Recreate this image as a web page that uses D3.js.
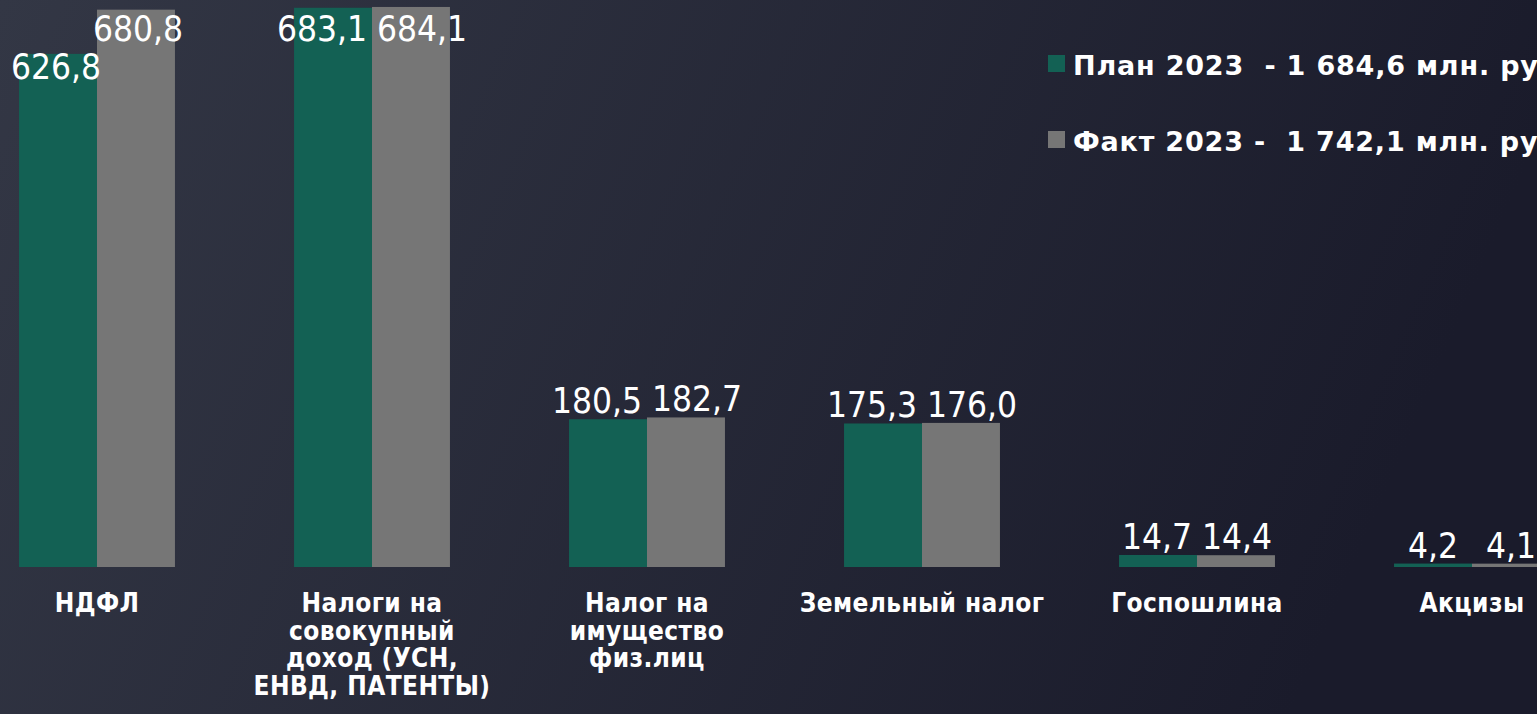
<!DOCTYPE html>
<html>
<head>
<meta charset="utf-8">
<script src="https://cdn.jsdelivr.net/npm/d3@7"></script>
<style>
  html, body { margin: 0; padding: 0; overflow: hidden; }
  body { width: 1537px; height: 714px; }
</style>
</head>
<body>
<svg id="chart"></svg>
<script>
// categories and series
const categories = [
  "НДФЛ",
  "Налоги на\nсовокупный\nдоход (УСН,\nЕНВД, ПАТЕНТЫ)",
  "Налог на\nимущество\nфиз.лиц",
  "Земельный налог",
  "Госпошлина",
  "Акцизы"
];
const plan2023 = [626.8, 683.1, 180.5, 175.3, 14.7, 4.2];
const fact2023 = [680.8, 684.1, 182.7, 176.0, 14.4, 4.1];
const seriesNames = ["План 2023  - 1 684,6 млн. руб.", "Факт 2023 -  1 742,1 млн. руб."];
const seriesColors = ["#136154", "#767676"];

const width = 1537, height = 714;
const baseline = 567;
const topLimit = 41;

const svg = d3.select("#chart")
  .attr("width", width)
  .attr("height", height);

// background gradient
const defs = svg.append("defs");
const grad = defs.append("linearGradient")
  .attr("id", "bg")
  .attr("x1", "0%").attr("y1", "0%")
  .attr("x2", "100%").attr("y2", "20%");
grad.append("stop").attr("offset", "0%").attr("stop-color", "#333745");
grad.append("stop").attr("offset", "100%").attr("stop-color", "#1a1b2b");

svg.append("rect")
  .attr("width", width)
  .attr("height", height)
  .attr("fill", "url(#bg)");

// scales
const x = d3.scaleBand()
  .domain(categories)
  .range([-40.5, 1609.5])
  .paddingInner(0.433)
  .paddingOuter(0.2165);

const xSub = d3.scaleBand()
  .domain([0, 1])
  .range([0, x.bandwidth()]);

const y = d3.scaleLinear()
  .domain([0, 692.6])
  .range([baseline, 0]);

const rows = categories.map((c, i) => ({ cat: c, vals: [plan2023[i], fact2023[i]] }));

const groups = svg.append("g")
  .selectAll("g.group")
  .data(rows)
  .join("g")
  .attr("class", "group")
  .attr("transform", d => `translate(${x(d.cat)},0)`);

groups.selectAll("rect")
  .data(d => d.vals.map((v, k) => ({ v, k })))
  .join("rect")
  .attr("x", d => xSub(d.k))
  .attr("y", d => y(d.v))
  .attr("width", xSub.bandwidth())
  .attr("height", d => baseline - y(d.v))
  .attr("fill", d => seriesColors[d.k]);

// value labels
const fmt = v => d3.format(".1f")(v).replace(".", ",");

groups.each(function(d) {
  const g = d3.select(this);
  const want = d.vals.map(v => y(v) - 6);
  const pos = want.map(p => Math.max(p, topLimit));
  const cx = d.vals.map((v, k) => xSub(k) + xSub.bandwidth() / 2);
  const labels = d.vals.map((v, k) => g.append("text")
    .attr("text-anchor", "middle")
    .attr("fill", "#ffffff")
    .style("font-family", "'DejaVu Sans Condensed', 'DejaVu Sans', sans-serif")
    .style("font-stretch", "condensed")
    .style("font-size", "35px")
    .text(fmt(v)));
  const w = labels.map(t => t.node().getComputedTextLength());
  const need = (w[0] + w[1]) / 2 + 10;
  const clamped = want.map(p => p < topLimit);
  if (clamped[0] !== clamped[1] && Math.abs(pos[0] - pos[1]) < 36 && cx[1] - cx[0] < need) {
    // one label pinned to the top: drop the other below it
    const lo = clamped[0] ? 1 : 0;
    pos[lo] = pos[1 - lo] + 38;
    cx[0] -= 2; cx[1] += 2;
  } else if (cx[1] - cx[0] < need) {
    // spread the pair sideways
    const s = (need - (cx[1] - cx[0])) / 2;
    cx[0] -= s; cx[1] += s;
  }
  labels.forEach((t, k) => t.attr("x", cx[k]).attr("y", pos[k]));
});

// category labels
svg.append("g")
  .selectAll("text")
  .data(categories)
  .join("text")
  .attr("x", d => x(d) + x.bandwidth() / 2)
  .attr("y", 612)
  .attr("text-anchor", "middle")
  .attr("fill", "#ffffff")
  .style("font-family", "'DejaVu Sans Condensed', 'DejaVu Sans', sans-serif")
  .style("font-stretch", "condensed")
  .style("font-weight", "bold")
  .style("font-size", "26px")
  .style("letter-spacing", "0.4px")
  .each(function(d) {
    const t = d3.select(this);
    d.split("\n").forEach((line, i) => {
      t.append("tspan")
        .attr("x", x(d) + x.bandwidth() / 2)
        .attr("dy", i === 0 ? 0 : 27.5)
        .text(line);
    });
  });

// legend
const legend = svg.append("g")
  .selectAll("g")
  .data(seriesNames)
  .join("g")
  .attr("transform", (d, i) => `translate(1048,${55 + i * 76})`);

legend.append("rect")
  .attr("width", 17)
  .attr("height", 17)
  .attr("fill", (d, i) => seriesColors[i]);

legend.append("text")
  .attr("x", 25)
  .attr("y", 20)
  .attr("fill", "#ffffff")
  .style("font-family", "'DejaVu Sans', sans-serif")
  .style("font-weight", "bold")
  .style("font-size", "27px")
  .style("letter-spacing", "0.8px")
  .style("white-space", "pre")
  .text(d => d);
</script>
</body>
</html>
